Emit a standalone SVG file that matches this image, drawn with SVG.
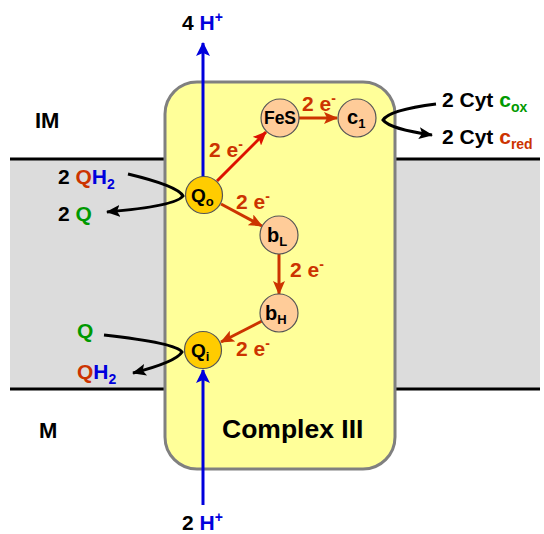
<svg xmlns="http://www.w3.org/2000/svg" width="544" height="534" viewBox="0 0 544 534">
<defs>
<style>
text{font-family:"Liberation Sans",Arial,sans-serif;font-weight:bold;font-size:21px;fill:#000}
.b{fill:#0000dd}.g{fill:#009900}.r{fill:#cc3300}.e{fill:#cc3300}
.sub{font-size:14px}
.mem{stroke:#000;stroke-width:3}
.red{stroke:#cc3300;stroke-width:3;fill:none}
.blk{stroke:#000;stroke-width:3;fill:none}
.blue{stroke:#0000dd;stroke-width:3;fill:none}
.cof{fill:#ffcc99;stroke:#555;stroke-width:1.2}
.q{fill:#ffcc00;stroke:#555;stroke-width:1.2}
</style>
<marker id="ar" markerUnits="userSpaceOnUse" markerWidth="14" markerHeight="12" refX="13" refY="6" orient="auto"><path d="M0,0 L14,6 L0,12 L3,6 z" fill="#cc3300"/></marker>
<marker id="ar2" markerUnits="userSpaceOnUse" markerWidth="14" markerHeight="12" refX="13" refY="6" orient="auto"><path d="M0,0 L14,6 L0,12 L3,6 z" fill="#dd1100"/></marker>
<marker id="ak" markerUnits="userSpaceOnUse" markerWidth="14" markerHeight="12" refX="13" refY="6" orient="auto"><path d="M0,0 L14,6 L0,12 L3,6 z" fill="#000"/></marker>
<marker id="ab" markerUnits="userSpaceOnUse" markerWidth="14" markerHeight="14" refX="13" refY="7" orient="auto"><path d="M0,0 L14,7 L0,14 L3,7 z" fill="#0000dd"/></marker>
</defs>
<g id="membrane">
<rect x="10" y="159" width="160" height="230" fill="#dcdcdc"/>
<rect x="390" y="159" width="150" height="230" fill="#dcdcdc"/>
<line class="mem" x1="10" y1="159" x2="170" y2="159"/>
<line class="mem" x1="390" y1="159" x2="540" y2="159"/>
<line class="mem" x1="10" y1="389" x2="170" y2="389"/>
<line class="mem" x1="390" y1="389" x2="540" y2="389"/>
<text x="35" y="128" style="font-size:22px">IM</text>
<text x="39" y="438" style="font-size:22px">M</text>
</g>
<g id="complex">
<rect x="165" y="82" width="230" height="387" rx="32" fill="#ffff99" stroke="#808080" stroke-width="3"/>
<text x="222" y="438" style="font-size:26.5px">Complex III</text>
</g>
<g id="connectors">
<line class="blue" x1="203" y1="195" x2="203" y2="43" marker-end="url(#ab)"/>
<line class="blue" x1="203" y1="505" x2="203" y2="370" marker-end="url(#ab)"/>
<line stroke="#dd1100" stroke-width="3" x1="217" y1="181" x2="266" y2="132" marker-end="url(#ar2)"/>
<line class="red" x1="299" y1="118" x2="337" y2="118" marker-end="url(#ar)"/>
<line class="red" x1="221" y1="204" x2="262" y2="226" marker-end="url(#ar)"/>
<line class="red" x1="279" y1="254" x2="279" y2="294" marker-end="url(#ar)"/>
<line class="red" x1="262" y1="321" x2="221" y2="342" marker-end="url(#ar)"/>
<path class="blk" d="M128,174 Q178,186 183,196 Q176,206 107,212" marker-end="url(#ak)"/>
<path class="blk" d="M104,335 Q176,343 182,352 Q176,362 133,373" marker-end="url(#ak)"/>
<path class="blk" d="M436,104 Q389,110 383,120 Q390,129 432,135" marker-end="url(#ak)"/>
</g>
<g id="labels">
<text x="182" y="30">4 <tspan class="b">H</tspan><tspan class="b sub" dy="-8">+</tspan></text>
<text x="182" y="530">2 <tspan class="b">H</tspan><tspan class="b sub" dy="-8">+</tspan></text>
<text x="58" y="184">2 <tspan class="r">Q</tspan><tspan class="b">H</tspan><tspan class="b sub" dy="5">2</tspan></text>
<text x="58" y="221">2 <tspan class="g">Q</tspan></text>
<text x="77" y="338" class="g">Q</text>
<text x="77" y="379"><tspan class="r">Q</tspan><tspan class="b">H</tspan><tspan class="b sub" dy="5">2</tspan></text>
<text x="442" y="107">2 Cyt <tspan class="g">c</tspan><tspan class="g sub" dy="5">ox</tspan></text>
<text x="442" y="144">2 Cyt <tspan class="r">c</tspan><tspan class="r sub" dy="5">red</tspan></text>
<text class="e" x="209" y="157">2 e<tspan class="sub" dy="-8">-</tspan></text>
<text class="e" x="302" y="111">2 e<tspan class="sub" dy="-8">-</tspan></text>
<text class="e" x="236" y="209">2 e<tspan class="sub" dy="-8">-</tspan></text>
<text class="e" x="290" y="277">2 e<tspan class="sub" dy="-8">-</tspan></text>
<text class="e" x="236" y="356">2 e<tspan class="sub" dy="-8">-</tspan></text>
</g>
<g id="Qo"><circle class="q" cx="204" cy="195" r="18.5"/><text x="191" y="202" style="font-size:19px">Q<tspan dy="4" style="font-size:13px">o</tspan></text></g>
<g id="Qi"><circle class="q" cx="203" cy="350" r="18.5"/><text x="191" y="357" style="font-size:19px">Q<tspan dy="4" style="font-size:13px">i</tspan></text></g>
<g id="FeS"><circle class="cof" cx="280" cy="118" r="19"/><text x="280" y="124" text-anchor="middle" style="font-size:17.5px">FeS</text></g>
<g id="c1"><circle class="cof" cx="357" cy="118" r="19"/><text x="347" y="124" style="font-size:20px">c<tspan dy="4" style="font-size:13px">1</tspan></text></g>
<g id="bL"><circle class="cof" cx="279" cy="235" r="19"/><text x="267" y="242" style="font-size:20px">b<tspan dy="4" style="font-size:13px">L</tspan></text></g>
<g id="bH"><circle class="cof" cx="279" cy="313" r="19"/><text x="265" y="320" style="font-size:20px">b<tspan dy="4" style="font-size:13px">H</tspan></text></g>
</svg>
